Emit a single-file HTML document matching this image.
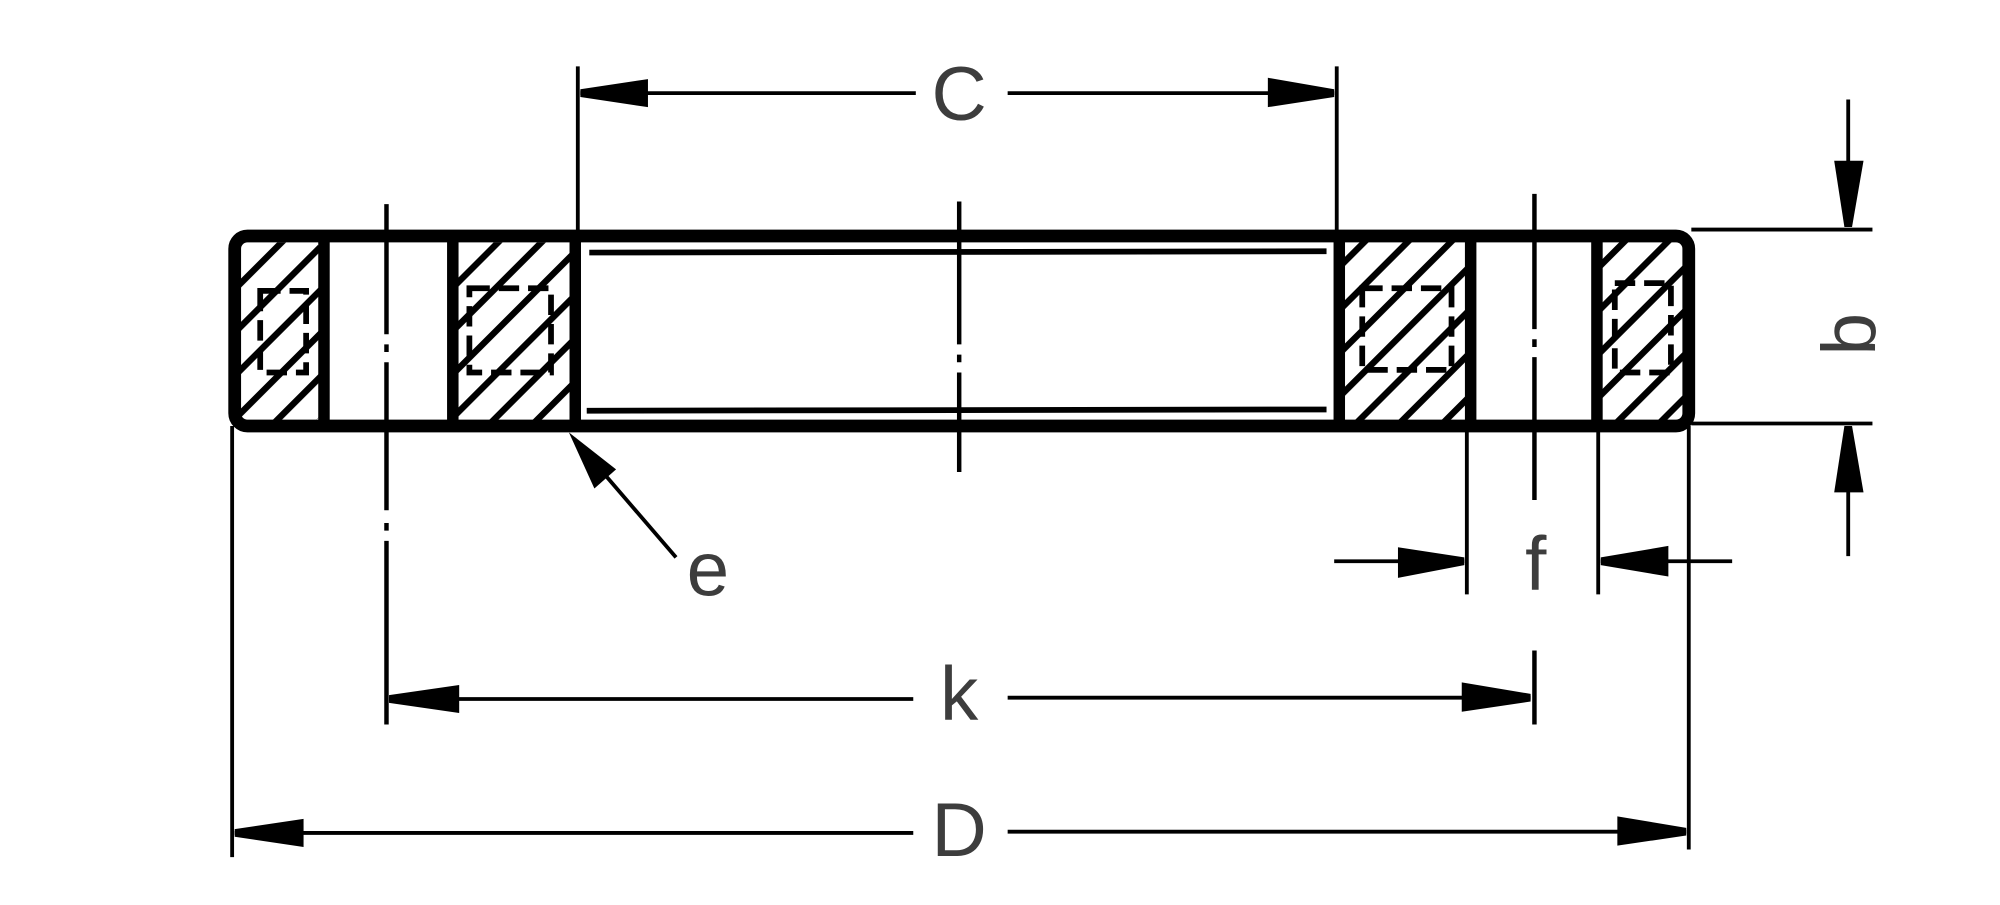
<!DOCTYPE html>
<html><head><meta charset="utf-8"><style>
html,body{margin:0;padding:0;background:#fff;}
svg{display:block;}
text{font-family:"Liberation Sans",sans-serif;fill:#3d3d3d;font-size:60px;}
</style></head><body>
<svg width="2000" height="905" viewBox="0 0 1568 709.5" preserveAspectRatio="none" xmlns="http://www.w3.org/2000/svg">
<defs>
<pattern id="h" patternUnits="userSpaceOnUse" width="24" height="24" patternTransform="rotate(45)">
<rect width="24" height="24" fill="#fff"/>
<line x1="0" y1="0" x2="0" y2="24" stroke="#000" stroke-width="10"/>
</pattern>
</defs>
<rect x="188" y="190" width="64" height="140" rx="8" fill="url(#h)"/>
<rect x="356" y="190" width="92" height="140" rx="10" fill="url(#h)"/>
<rect x="1052" y="188" width="98" height="142" rx="12" fill="url(#h)"/>
<rect x="1254" y="188" width="66" height="142" rx="12" fill="url(#h)"/>
<g fill="none" stroke="#000" stroke-width="4.5" stroke-dasharray="16 7">
<rect x="204" y="228" width="36" height="64"/>
<rect x="368" y="226" width="64" height="66"/>
<rect x="1068" y="226" width="70" height="64"/>
<rect x="1266" y="222" width="44" height="70"/>
</g>
<rect x="184" y="185" width="1140" height="149" rx="10" fill="none" stroke="#000" stroke-width="10"/>
<g stroke="#000" stroke-width="9">
<line x1="254" y1="185" x2="254" y2="334"/>
<line x1="355" y1="185" x2="355" y2="334"/>
<line x1="451" y1="185" x2="451" y2="334"/>
<line x1="1050" y1="185" x2="1050" y2="334"/>
<line x1="1153" y1="185" x2="1153" y2="334"/>
<line x1="1252" y1="185" x2="1252" y2="334"/>
</g>
<g stroke="#000" stroke-width="4.5">
<line x1="462" y1="198" x2="1040" y2="197"/>
<line x1="460" y1="322" x2="1040" y2="321"/>
</g>
<g stroke="#000" stroke-width="3.5" fill="none">
<path d="M752 158 V270 M752 278 V284 M752 292 V370"/>
<path d="M303 160 V262 M303 270 V276 M303 284 V400 M303 410 V416 M303 424 V568"/>
<path d="M1203 152 V258 M1203 266 V272 M1203 280 V392 M1203 510 V568"/>
</g>
<g stroke="#000" stroke-width="3" fill="none">
<line x1="453" y1="52" x2="453" y2="185"/>
<line x1="1048" y1="52" x2="1048" y2="185"/>
<line x1="1326" y1="180" x2="1468" y2="180"/>
<line x1="1326" y1="332" x2="1468" y2="332"/>
<line x1="1150" y1="334" x2="1150" y2="466"/>
<line x1="1253" y1="334" x2="1253" y2="466"/>
<line x1="182" y1="334" x2="182" y2="672"/>
<line x1="1324" y1="334" x2="1324" y2="666"/>
<line x1="455" y1="73" x2="718" y2="73"/>
<line x1="790" y1="73" x2="1046" y2="73"/>
<line x1="305" y1="548" x2="716" y2="548"/>
<line x1="790" y1="547" x2="1200" y2="547"/>
<line x1="184" y1="653" x2="716" y2="653"/>
<line x1="790" y1="652" x2="1322" y2="652"/>
<line x1="1046" y1="440" x2="1148" y2="440"/>
<line x1="1255" y1="440" x2="1358" y2="440"/>
<line x1="1449" y1="78" x2="1449" y2="178"/>
<line x1="1449" y1="334" x2="1449" y2="436"/>
<line x1="530" y1="437" x2="450" y2="344"/>
</g>
<g fill="#000">
<polygon points="455,70 455,76 508,84 508,62"/>
<polygon points="1046,70 1046,76 994,84 994,61"/>
<polygon points="305,545 305,551 360,559 360,537"/>
<polygon points="1200,544 1200,550 1146,558 1146,535"/>
<polygon points="184,650 184,656 238,664 238,642"/>
<polygon points="1322,649 1322,655 1268,663 1268,640"/>
<polygon points="1148,437 1148,443 1096,453 1096,429"/>
<polygon points="1255,437 1255,443 1308,452 1308,428"/>
<polygon points="1446,178 1452,178 1461,126 1438,126"/>
<polygon points="1446,334 1452,334 1461,386 1438,386"/>
<polygon points="446,339 466,383 483,368"/>
</g>
<text x="752" y="94" text-anchor="middle">C</text>
<text x="752" y="564" text-anchor="middle">k</text>
<text x="752" y="671" text-anchor="middle">D</text>
<text x="1204" y="462" text-anchor="middle">f</text>
<text x="555" y="467" text-anchor="middle">e</text>
<text transform="translate(1470,262) rotate(-90)" text-anchor="middle">b</text>
</svg>
</body></html>
